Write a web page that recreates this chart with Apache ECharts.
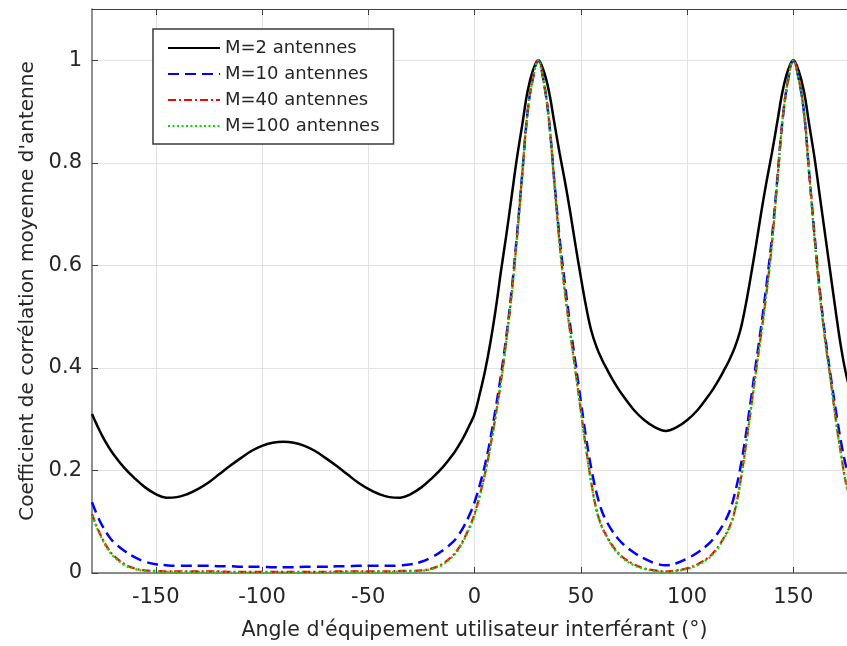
<!DOCTYPE html>
<html>
<head>
<meta charset="utf-8">
<script src="https://cdn.jsdelivr.net/npm/echarts@6/dist/echarts.min.js"></script>
<style>
  html, body { margin: 0; padding: 0; background: #ffffff; overflow: hidden; }
  /* the plot box runs a little past the right edge of the window */
  #chart { width: 857px; height: 646px; }
</style>
</head>
<body>
<div id="chart"></div>
<script>
// Interfering user angle (degrees)
const angles = [
  -180, -177.5, -175, -172.5, -170,
  -165, -160, -155, -150, -145, -140, -135, -130, -125, -120, -115, -110, -105, -100, -95,
  -90, -85, -80, -75, -70, -65, -60, -55, -50, -45, -40, -35, -30, -25, -20, -15,
  -10, -7.5, -5, -2.5, 0, 2.5, 5, 7.5, 10, 12.5, 15, 17.5, 20, 22.5, 25, 27.5, 30,
  32.5, 35, 37.5, 40, 42.5, 45, 47.5, 50, 52.5, 55, 57.5, 60, 62.5, 65, 67.5, 70,
  75, 80, 85, 90, 95, 100, 105,
  110, 112.5, 115, 117.5, 120, 122.5, 125, 127.5, 130, 132.5, 135, 137.5, 140, 142.5, 145, 147.5, 150,
  152.5, 155, 157.5, 160, 162.5, 165, 167.5, 170, 172.5, 175, 177.5, 180
];

// Mean antenna correlation coefficient, M = 2
const corrM2 = [
  0.310, 0.287, 0.266, 0.248, 0.232,
  0.206, 0.185, 0.167, 0.154, 0.147, 0.148, 0.154, 0.164, 0.177, 0.193, 0.209, 0.224, 0.238, 0.248, 0.254,
  0.256, 0.254, 0.248, 0.238, 0.224, 0.209, 0.193, 0.177, 0.164, 0.154, 0.148, 0.147, 0.154, 0.167, 0.185, 0.206,
  0.232, 0.248, 0.266, 0.287, 0.310, 0.350, 0.395, 0.450, 0.515, 0.590, 0.660, 0.735, 0.810, 0.875, 0.940, 0.980, 1.000,
  0.980, 0.940, 0.880, 0.820, 0.765, 0.705, 0.640, 0.578, 0.520, 0.472, 0.440, 0.416, 0.396, 0.377, 0.360, 0.345,
  0.318, 0.298, 0.284, 0.277, 0.284, 0.298, 0.318,
  0.345, 0.360, 0.377, 0.396, 0.416, 0.440, 0.472, 0.520, 0.578, 0.640, 0.705, 0.765, 0.820, 0.880, 0.940, 0.980, 1.000,
  0.980, 0.940, 0.875, 0.810, 0.735, 0.660, 0.585, 0.510, 0.440, 0.385, 0.345, 0.310
];

// M = 10
const corrM10 = [
  0.138, 0.112, 0.091, 0.074, 0.061,
  0.044, 0.031, 0.022, 0.017, 0.015, 0.014, 0.014, 0.014, 0.014, 0.013, 0.013, 0.012, 0.012, 0.012, 0.011,
  0.011, 0.011, 0.012, 0.012, 0.012, 0.013, 0.013, 0.014, 0.014, 0.014, 0.014, 0.015, 0.017, 0.022, 0.031, 0.044,
  0.061, 0.074, 0.091, 0.112, 0.138, 0.172, 0.212, 0.262, 0.322, 0.387, 0.462, 0.552, 0.660, 0.780, 0.900, 0.965, 1.000,
  0.960, 0.885, 0.768, 0.655, 0.565, 0.484, 0.410, 0.336, 0.264, 0.203, 0.155, 0.120, 0.098, 0.081, 0.067, 0.056,
  0.040, 0.028, 0.019, 0.015, 0.019, 0.028, 0.040,
  0.056, 0.067, 0.081, 0.098, 0.120, 0.155, 0.203, 0.264, 0.336, 0.410, 0.484, 0.565, 0.655, 0.768, 0.885, 0.960, 1.000,
  0.965, 0.900, 0.780, 0.660, 0.552, 0.462, 0.387, 0.318, 0.255, 0.205, 0.168, 0.138
];

// M = 40
const corrM40 = [
  0.115, 0.088, 0.066, 0.048, 0.035,
  0.018, 0.009, 0.005, 0.004, 0.003, 0.003, 0.003, 0.003, 0.003, 0.003, 0.002, 0.002, 0.002, 0.002, 0.002,
  0.002, 0.002, 0.002, 0.002, 0.002, 0.003, 0.003, 0.003, 0.003, 0.003, 0.003, 0.004, 0.004, 0.005, 0.009, 0.018,
  0.035, 0.048, 0.066, 0.088, 0.115, 0.152, 0.195, 0.248, 0.308, 0.375, 0.455, 0.545, 0.655, 0.780, 0.900, 0.965, 1.000,
  0.960, 0.885, 0.765, 0.645, 0.550, 0.470, 0.395, 0.318, 0.243, 0.175, 0.122, 0.090, 0.070, 0.053, 0.040, 0.030,
  0.017, 0.009, 0.005, 0.003, 0.005, 0.009, 0.017,
  0.030, 0.040, 0.053, 0.070, 0.090, 0.122, 0.175, 0.243, 0.318, 0.395, 0.470, 0.550, 0.645, 0.765, 0.885, 0.960, 1.000,
  0.965, 0.900, 0.780, 0.655, 0.545, 0.455, 0.380, 0.300, 0.232, 0.172, 0.140, 0.115
];

// M = 100
const corrM100 = [
  0.112, 0.086, 0.064, 0.046, 0.033,
  0.016, 0.008, 0.004, 0.003, 0.002, 0.002, 0.002, 0.002, 0.002, 0.002, 0.001, 0.001, 0.001, 0.001, 0.001,
  0.001, 0.001, 0.001, 0.001, 0.001, 0.002, 0.002, 0.002, 0.002, 0.002, 0.002, 0.003, 0.003, 0.004, 0.008, 0.016,
  0.033, 0.046, 0.064, 0.086, 0.112, 0.150, 0.193, 0.246, 0.306, 0.373, 0.453, 0.543, 0.653, 0.778, 0.899, 0.965, 1.000,
  0.960, 0.884, 0.763, 0.643, 0.548, 0.468, 0.393, 0.316, 0.241, 0.173, 0.120, 0.088, 0.068, 0.051, 0.038, 0.028,
  0.015, 0.008, 0.004, 0.002, 0.004, 0.008, 0.015,
  0.028, 0.038, 0.051, 0.068, 0.088, 0.120, 0.173, 0.241, 0.316, 0.393, 0.468, 0.548, 0.643, 0.763, 0.884, 0.960, 1.000,
  0.965, 0.899, 0.778, 0.653, 0.543, 0.453, 0.378, 0.298, 0.230, 0.170, 0.138, 0.112
];

const seriesNames = ['M=2 antennes', 'M=10 antennes', 'M=40 antennes', 'M=100 antennes'];
const xTickValues = [-150, -100, -50, 0, 50, 100, 150];
const xAxisTitle = "Angle d'équipement utilisateur interférant (°)";
const yAxisTitle = "Coefficient de corrélation moyenne d'antenne";

const FONT = 'DejaVu Sans';
const toPairs = (vals) => angles.map((a, i) => [a, vals[i]]);

const chart = echarts.init(document.getElementById('chart'), null, { renderer: 'canvas' });

const lineSeries = (name, vals, style, z) => ({
  name: name,
  type: 'line',
  data: toPairs(vals),
  symbol: 'none',
  showSymbol: false,
  smooth: 0.4,
  lineStyle: style,
  itemStyle: { color: style.color },
  emphasis: { disabled: true },
  z: z
});

chart.setOption({
  animation: false,
  backgroundColor: '#ffffff',
  grid: { left: 92, right: 0, top: 9, bottom: 71, containLabel: false },
  legend: {
    orient: 'vertical',
    left: 153,
    top: 29,
    padding: [9, 14, 8, 14],
    itemWidth: 52,
    itemHeight: 14,
    itemGap: 6,
    backgroundColor: '#ffffff',
    borderColor: '#3a3a3a',
    borderWidth: 1.5,
    borderRadius: 0,
    itemStyle: { opacity: 0 },
    textStyle: { fontFamily: FONT, fontSize: 18, color: '#262626', lineHeight: 20 },
    data: seriesNames
  },
  xAxis: [
    {
      type: 'value',
      min: -180,
      max: 180,
      position: 'bottom',
      axisLine: { show: true, onZero: false, lineStyle: { color: '#6a6a6a', width: 1.5 } },
      axisTick: { show: true, inside: true, length: 6, customValues: xTickValues,
                  lineStyle: { color: '#404040', width: 1 } },
      axisLabel: { customValues: xTickValues, margin: 14, fontFamily: FONT, fontSize: 21, color: '#262626' },
      splitLine: { show: true, lineStyle: { color: '#e2e2e2', width: 1 } },
      name: xAxisTitle,
      nameLocation: 'middle',
      nameGap: 47,
      nameTextStyle: { fontFamily: FONT, fontSize: 20.5, color: '#262626' }
    },
    {
      type: 'value',
      min: -180,
      max: 180,
      position: 'top',
      axisLine: { show: true, onZero: false, lineStyle: { color: '#404040', width: 1 } },
      axisTick: { show: true, inside: true, length: 6, customValues: xTickValues,
                  lineStyle: { color: '#404040', width: 1 } },
      axisLabel: { show: false },
      splitLine: { show: false }
    }
  ],
  yAxis: {
    type: 'value',
    min: 0,
    max: 1.1,
    interval: 0.2,
    axisLine: { show: true, onZero: false, lineStyle: { color: '#6a6a6a', width: 1.5 } },
    axisTick: { show: true, inside: true, length: 6, lineStyle: { color: '#404040', width: 1 } },
    axisLabel: { showMaxLabel: false, margin: 10, fontFamily: FONT, fontSize: 21, color: '#262626' },
    splitLine: { show: true, lineStyle: { color: '#e2e2e2', width: 1 } },
    name: yAxisTitle,
    nameLocation: 'middle',
    nameGap: 52,
    nameTextStyle: { fontFamily: FONT, fontSize: 20, color: '#262626' }
  },
  series: [
    lineSeries(seriesNames[0], corrM2, { color: '#000000', width: 2.5, type: 'solid' }, 2),
    lineSeries(seriesNames[1], corrM10, { color: '#0000ff', width: 2.5, type: [11, 6] }, 3),
    lineSeries(seriesNames[2], corrM40, { color: '#ff0000', width: 2.2, type: [8, 3, 2, 3] }, 4),
    lineSeries(seriesNames[3], corrM100, { color: '#00e000', width: 2.2, type: [2, 2.5] }, 5)
  ]
});
</script>
</body>
</html>
